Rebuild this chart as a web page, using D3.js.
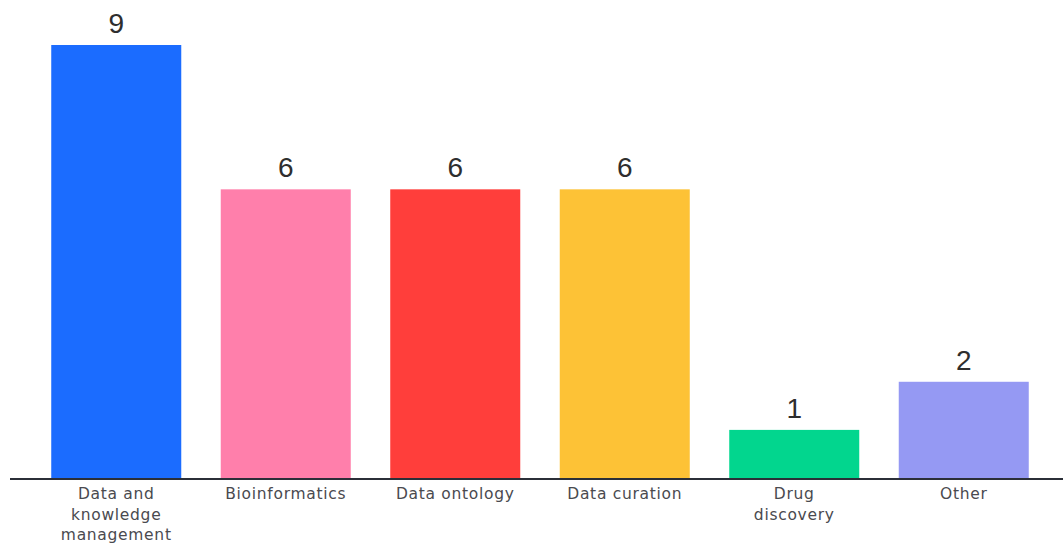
<!DOCTYPE html>
<html>
<head>
<meta charset="utf-8">
<script src="https://cdn.jsdelivr.net/npm/d3@7"></script>
<style>
  html, body { margin: 0; padding: 0; background: #fff; }
  svg { display: block; }
</style>
</head>
<body>
<div id="chart"></div>
<script>
const categories = ["Data and knowledge management", "Bioinformatics", "Data ontology", "Data curation", "Drug discovery", "Other"];
const tickLabels = [["Data and", "knowledge", "management"], ["Bioinformatics"], ["Data ontology"], ["Data curation"], ["Drug", "discovery"], ["Other"]];
const values = [9, 6, 6, 6, 1, 2];
const colors = ["#1b6cff", "#ff7fab", "#ff3e3b", "#fdc236", "#02d68e", "#9599f3"];

const width = 1063, height = 545;
const svg = d3.select("#chart").append("svg").attr("width", width).attr("height", height);

const x = d3.scaleBand().domain(categories).range([31.5, 1048.5]).paddingInner(0.233).paddingOuter(0.1165);
const y = d3.scaleLinear().domain([0, 9]).range([478, 45]);

svg.selectAll("rect.bar").data(values).join("rect")
  .attr("class", "bar")
  .attr("x", (d, i) => x(categories[i]))
  .attr("y", d => y(d))
  .attr("width", x.bandwidth())
  .attr("height", d => y(0) - y(d))
  .attr("fill", (d, i) => colors[i]);

svg.selectAll("text.val").data(values).join("text")
  .attr("class", "val")
  .attr("x", (d, i) => x(categories[i]) + x.bandwidth() / 2)
  .attr("y", d => y(d) - 12)
  .attr("text-anchor", "middle")
  .attr("font-family", "Liberation Sans, Arial, sans-serif")
  .attr("font-size", 28)
  .attr("fill", "#2e2e2e")
  .text(d => d);

// baseline
svg.append("line")
  .attr("x1", 10).attr("x2", width)
  .attr("y1", y(0) + 1).attr("y2", y(0) + 1)
  .attr("stroke", "#2b2f38").attr("stroke-width", 2);

// category labels
const lab = svg.selectAll("text.cat").data(tickLabels).join("text")
  .attr("class", "cat")
  .attr("text-anchor", "middle")
  .attr("font-family", "DejaVu Sans, sans-serif")
  .attr("font-size", 15.5)
  .attr("letter-spacing", 0.7)
  .attr("fill", "#4a4a4f");
lab.each(function(lines, i) {
  const cx = x(categories[i]) + x.bandwidth() / 2;
  d3.select(this).selectAll("tspan").data(lines).join("tspan")
    .attr("x", cx)
    .attr("y", (d, j) => 499 + j * 20.5)
    .text(d => d);
});
</script>
</body>
</html>
